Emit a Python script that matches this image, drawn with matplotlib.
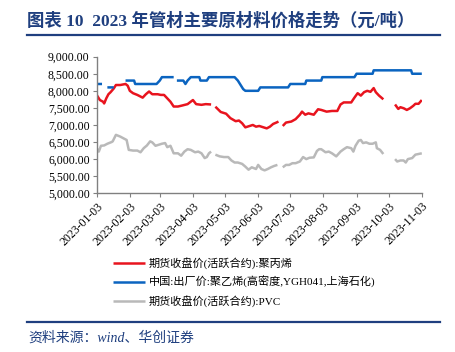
import numpy as np
import pandas as pd
import matplotlib
matplotlib.use("Agg")
import matplotlib.pyplot as plt
import matplotlib.dates as mdates
from matplotlib.ticker import FuncFormatter

plt.rcParams["font.family"] = ["Liberation Serif", "Noto Sans CJK SC"]

NAN = np.nan

# 期货收盘价(活跃合约):聚丙烯
pp_dates = ["2023-01-03", "2023-01-06", "2023-01-09", "2023-01-10", "2023-01-12", "2023-01-14",
            "2023-01-16", "2023-01-19", "2023-01-21", "2023-01-25", "2023-01-30", "2023-02-01",
            "2023-02-03", "2023-02-06", "2023-02-10", "2023-02-15", "2023-02-18", "2023-02-21",
            "2023-02-24", "2023-03-01", "2023-03-04", "2023-03-07", "2023-03-10", "2023-03-13",
            "2023-03-16", "2023-03-20", "2023-03-24", "2023-03-29", "2023-04-03", "2023-04-06",
            "2023-04-11", "2023-04-15", "2023-04-20", "2023-04-22", "2023-04-24", "2023-04-29",
            "2023-05-04", "2023-05-08", "2023-05-13", "2023-05-16", "2023-05-19", "2023-05-22",
            "2023-05-26", "2023-05-29", "2023-06-01", "2023-06-04", "2023-06-08", "2023-06-11",
            "2023-06-14", "2023-06-17", "2023-06-20", "2023-06-22", "2023-06-24", "2023-06-26",
            "2023-06-29", "2023-07-04", "2023-07-08", "2023-07-12", "2023-07-14", "2023-07-17",
            "2023-07-20", "2023-07-25", "2023-07-29", "2023-08-01", "2023-08-06", "2023-08-11",
            "2023-08-16", "2023-08-19", "2023-08-22", "2023-08-29", "2023-09-01", "2023-09-04",
            "2023-09-07", "2023-09-10", "2023-09-13", "2023-09-16", "2023-09-19", "2023-09-21",
            "2023-09-24", "2023-09-27", "2023-09-28", "2023-10-03", "2023-10-09", "2023-10-12",
            "2023-10-14", "2023-10-17", "2023-10-20", "2023-10-23", "2023-10-26", "2023-10-28",
            "2023-10-31", "2023-11-03"]
pp_values = [7880, 7730, 7680, 7630, 7780, 7900,
             7960, 8070, 8170, 8170, 8200, 8150,
             8000, 7930, 7880, 7800, 7900, 7980,
             7900, 7900, 7880, 7880, 7780, 7680,
             7540, 7540, 7570, 7610, 7730, 7610,
             7590, 7610, 7600, NAN, 7535, 7380,
             7330, 7200, 7110, 7130, 7050, 6930,
             6970, 7000, 6950, 6970, 6930, 6900,
             6950, 7030, 7070, 7100, NAN, 6970,
             7070, 7100, 7170, 7300, 7390, 7300,
             7340, 7300, 7460, 7440, 7390, 7410,
             7410, 7600, 7660, 7660, 7800, 7930,
             7860, 7960, 8000, 7970, 8080, 7960,
             7860, 7780, 7750, NAN, 7600, 7470,
             7520, 7490, 7440, 7490, 7560, 7620,
             7620, 7730]

# 中国:出厂价:聚乙烯(高密度,YGH041,上海石化)
pe_dates = ["2023-01-03", "2023-01-08", "2023-01-10", "2023-01-13", "2023-01-19", "2023-01-24",
            "2023-01-30", "2023-02-07", "2023-02-08", "2023-02-28", "2023-03-03", "2023-03-05",
            "2023-03-16", "2023-03-17", "2023-03-19", "2023-03-25", "2023-03-27", "2023-03-29",
            "2023-04-01", "2023-04-09", "2023-04-10", "2023-04-16", "2023-04-18", "2023-05-12",
            "2023-05-15", "2023-05-17", "2023-05-20", "2023-05-22", "2023-06-03", "2023-06-05",
            "2023-07-01", "2023-07-03", "2023-07-17", "2023-07-18", "2023-08-01", "2023-08-02",
            "2023-09-01", "2023-09-03", "2023-09-18", "2023-09-19", "2023-10-24", "2023-10-25",
            "2023-11-03"]
pe_values = [8200, 8200, NAN, 8100, 8100, NAN,
             8300, 8300, 8200, 8200, 8300, 8400,
             8400, NAN, 8300, 8300, 8200, 8300,
             8400, 8400, 8300, 8300, 8400, 8400,
             8300, 8200, 8050, 8000, 8000, 8100,
             8100, 8200, 8200, 8300, 8300, 8400,
             8400, 8500, 8500, 8600, 8600, 8500,
             8500]

# 期货收盘价(活跃合约):PVC
pvc_dates = ["2023-01-03", "2023-01-05", "2023-01-07", "2023-01-10", "2023-01-13", "2023-01-17",
             "2023-01-18", "2023-01-21", "2023-01-25", "2023-01-28", "2023-01-31", "2023-02-02",
             "2023-02-06", "2023-02-10", "2023-02-13", "2023-02-16", "2023-02-19", "2023-02-22",
             "2023-02-24", "2023-02-27", "2023-03-02", "2023-03-05", "2023-03-08", "2023-03-10",
             "2023-03-13", "2023-03-16", "2023-03-20", "2023-03-23", "2023-03-26", "2023-03-29",
             "2023-04-01", "2023-04-05", "2023-04-08", "2023-04-11", "2023-04-14", "2023-04-16",
             "2023-04-18", "2023-04-20", "2023-04-22", "2023-04-24", "2023-04-28", "2023-05-02",
             "2023-05-06", "2023-05-09", "2023-05-12", "2023-05-15", "2023-05-19", "2023-05-22",
             "2023-05-25", "2023-05-28", "2023-06-01", "2023-06-03", "2023-06-06", "2023-06-09",
             "2023-06-12", "2023-06-15", "2023-06-18", "2023-06-21", "2023-06-24", "2023-06-26",
             "2023-06-29", "2023-07-02", "2023-07-05", "2023-07-08", "2023-07-12", "2023-07-15",
             "2023-07-18", "2023-07-21", "2023-07-25", "2023-07-28", "2023-07-30", "2023-08-01",
             "2023-08-05", "2023-08-08", "2023-08-11", "2023-08-15", "2023-08-19", "2023-08-22",
             "2023-08-25", "2023-08-29", "2023-08-31", "2023-09-02", "2023-09-05", "2023-09-07",
             "2023-09-09", "2023-09-12", "2023-09-15", "2023-09-18", "2023-09-21", "2023-09-22",
             "2023-09-25", "2023-09-28", "2023-10-03", "2023-10-09", "2023-10-11", "2023-10-14",
             "2023-10-17", "2023-10-19", "2023-10-21", "2023-10-25", "2023-10-28", "2023-10-31",
             "2023-11-03"]
pvc_values = [6320, 6220, 6390, 6400, 6450, 6500,
              6520, 6710, 6660, 6610, 6560, 6270,
              6250, 6250, 6200, 6320, 6400, 6520,
              6490, 6390, 6420, 6450, 6470, 6350,
              6390, 6170, 6170, 6100, 6220, 6290,
              6270, 6200, 6220, 6170, 6030, 6060,
              6170, 6220, NAN, 6130, 6080, 6060,
              6060, 5960, 5900, 5900, 5860, 5780,
              5690, 5760, 5710, 5830, 5710, 5670,
              5710, 5760, 5800, 5830, NAN, 5760,
              5830, 5830, 5880, 5880, 5930, 6060,
              6000, 6040, 6050, 6240, 6290, 6290,
              6200, 6220, 6170, 6080, 6220, 6290,
              6350, 6320, 6220, 6390, 6540, 6560,
              6470, 6490, 6450, 6450, 6490, 6320,
              6270, 6150, NAN, 6000, 5930, 5960,
              5960, 5900, 6000, 6030, 6130, 6150,
              6170]

labels = ["期货收盘价(活跃合约):聚丙烯",
          "中国:出厂价:聚乙烯(高密度,YGH041,上海石化)",
          "期货收盘价(活跃合约):PVC"]
colors = ["#E8141E", "#0B64C0", "#B9B9B9"]

tick_dates = pd.to_datetime([f"2023-{m:02d}-03" for m in range(1, 12)])

NAVY = "#1F3F7F"

fig = plt.figure(figsize=(4.56, 3.52), dpi=100)
ax = fig.add_axes([0.212, 0.451, 0.713, 0.388])

series = [(pp_dates, pp_values), (pe_dates, pe_values), (pvc_dates, pvc_values)]
for (d, v), lab, c in zip(series, labels, colors):
    ax.plot(pd.to_datetime(d), v, color=c, lw=1.8, label=lab, solid_capstyle="butt")

ax.set_ylim(5000, 9000)
ax.set_yticks(np.arange(5000, 9001, 500))
ax.yaxis.set_major_formatter(FuncFormatter(lambda v, p: f"{v:,.2f}"))
ax.set_xlim(pd.Timestamp("2023-01-03"), pd.Timestamp("2023-11-03"))
ax.set_xticks(tick_dates)
ax.xaxis.set_major_formatter(mdates.DateFormatter("%Y-%m-%d"))

for s in ["top", "right"]:
    ax.spines[s].set_visible(False)
for s in ["left", "bottom"]:
    ax.spines[s].set_color("#808080")
    ax.spines[s].set_linewidth(1.0)
ax.tick_params(axis="both", direction="out", length=3, color="#808080", labelsize=8.5, pad=2)
plt.setp(ax.get_xticklabels(), rotation=45, ha="right", rotation_mode="anchor")

fig.legend(loc="upper left", bbox_to_anchor=(0.248, 0.27), frameon=False, fontsize=8,
           handlelength=2.9, handletextpad=0.3, labelspacing=0.65, borderpad=0, borderaxespad=0)

fig.text(0.06, 0.94, "图表 10  2023 年管材主要原材料价格走势（元/吨）", fontsize=12.5,
         fontweight="bold", color=NAVY, va="center", ha="left")
fig.add_artist(plt.Line2D([0.059, 0.965], [0.9, 0.9], color=NAVY, lw=1.6))
fig.add_artist(plt.Line2D([0.059, 0.965], [0.085, 0.085], color=NAVY, lw=1.6))
fig.text(0.062, 0.04, "资料来源：wind、华创证券", fontsize=10, color=NAVY, style="italic",
         va="center", ha="left")

fig.savefig("out.png", dpi=100)
